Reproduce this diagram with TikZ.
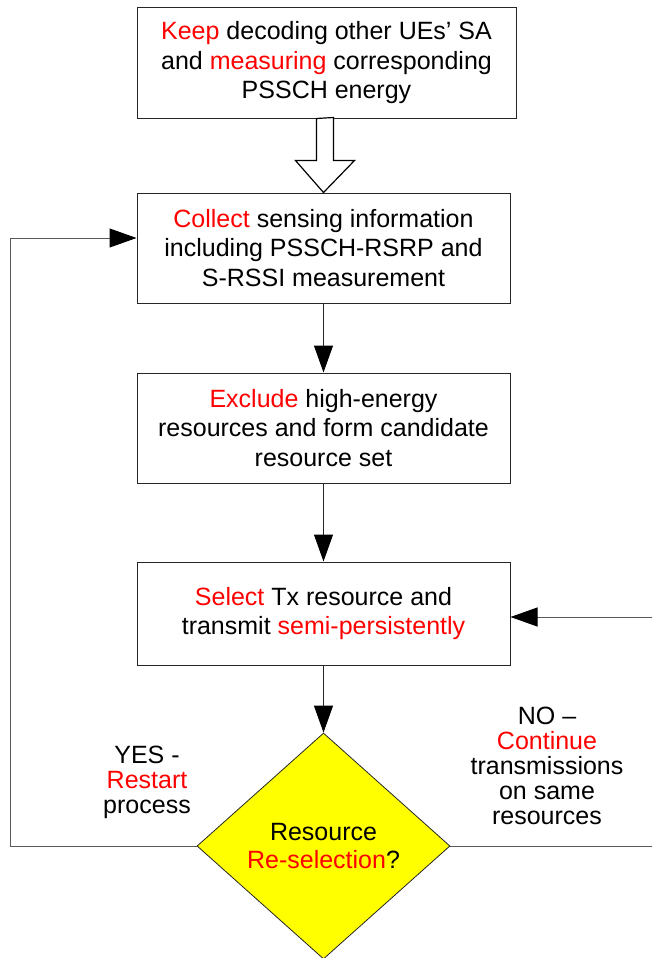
\documentclass[tikz,border=0pt]{standalone}
\usepackage{fontspec}
\setmainfont{Liberation Sans}
\usetikzlibrary{shapes.geometric,arrows.meta}
\definecolor{hl}{RGB}{255,0,0}
\definecolor{dyellow}{RGB}{255,255,0}
\newcommand{\hl}[1]{\textcolor{hl}{#1}}
\begin{document}
\begin{tikzpicture}[
        x=1pt, y=-1pt, % pixel-like units, y grows downwards
        font=\fontsize{25}{29.5}\selectfont,
        box/.style={draw=black!85, line width=1pt, align=center, inner sep=0pt, minimum width=373pt, minimum height=110pt}, % step boxes
        decision/.style={diamond, draw=black!85, line width=0.8pt, fill=dyellow, align=center, inner sep=0pt, minimum width=253pt, minimum height=226pt, font=\fontsize{25}{27.5}\selectfont},
        flow/.style={draw=black!85, line width=1pt, -{Triangle[length=27pt, width=19pt, black]}},
        loop/.style={draw=black!65, line width=1pt, -{Triangle[length=27pt, width=19pt, black]}},
        lbl/.style={align=center, inner sep=0pt, font=\fontsize{25}{25}\selectfont}, % branch labels
    ]
    \useasboundingbox (0,0) rectangle (652,958);

    \node[box, minimum width=379pt] (keep) at (326.5,63) {\hl{Keep} decoding other UEs' SA\\and \hl{measuring} corresponding\\PSSCH energy};
    \node[box] (collect) at (323.5,248) {\hl{Collect} sensing information\\including PSSCH-RSRP and\\S-RSSI measurement};
    \node[box] (exclude) at (323.5,428) {\hl{Exclude} high-energy\\resources and form candidate\\resource set};
    \node[box, minimum height=103pt] (select) at (323.5,613.5) {\hl{Select} Tx resource and\\transmit \hl{semi-persistently}};
    \node[decision] (resel) at (323.5,846) {Resource\\\hl{Re-selection}?};

    % hollow arrow between first two boxes
    \draw[black, line width=1.2pt, fill=white] (keep.south) ++(-10,0) -- ++(0,42) -- ++(-21,0) -- (collect.north) -- ++(31,-32) -- ++(-21,0) -- ++(0,-43) -- cycle;

    \draw[flow] (collect) -- (exclude);
    \draw[flow] (exclude) -- (select);
    \draw[flow] (select) -- (resel);

    % restart loop
    \coordinate (lcorner) at (10,846);
    \coordinate (ltop) at (10,238);
    \draw[loop] (resel.west) -- (lcorner) -- (ltop) -- (collect.west |- ltop);
    % continue loop
    \coordinate (rcorner) at (652,846);
    \coordinate (rtop) at (652,617);
    \draw[loop] (resel.east) -- (rcorner) -- (rtop) -- (select.east |- rtop);

    \node[lbl] (yes) at (147,782.5) {YES -\\\hl{Restart}\\process};
    \node[lbl] (no) at (547,766) {NO --\\\hl{Continue}\\transmissions\\on same\\resources};
\end{tikzpicture}
\end{document}
